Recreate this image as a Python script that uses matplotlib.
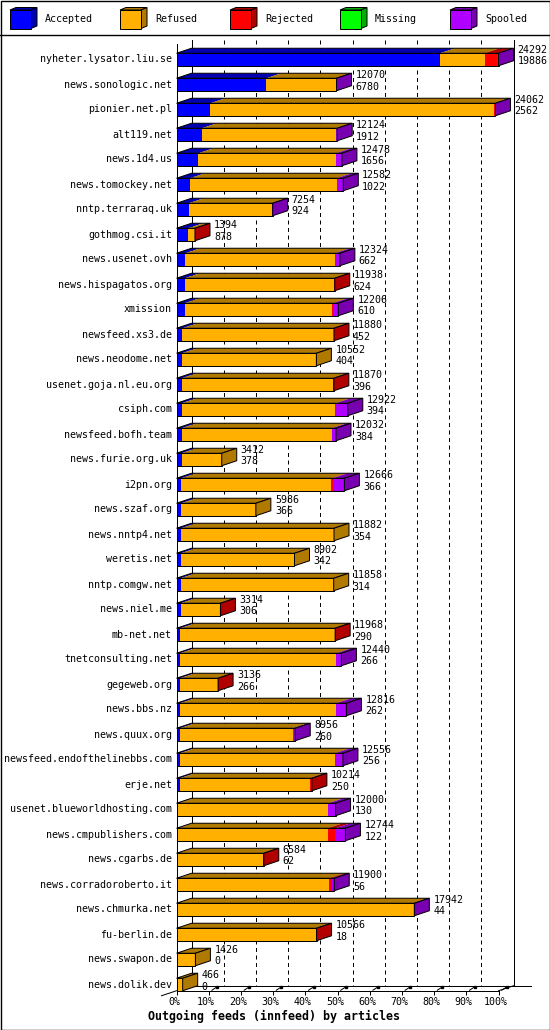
import matplotlib
matplotlib.use("Agg")
import matplotlib.pyplot as plt
from matplotlib.patches import Polygon, Rectangle
from matplotlib.transforms import ScaledTranslation

hosts = ["nyheter.lysator.liu.se", "news.sonologic.net", "pionier.net.pl", "alt119.net",
         "news.1d4.us", "news.tomockey.net", "nntp.terraraq.uk", "gothmog.csi.it",
         "news.usenet.ovh", "news.hispagatos.org", "xmission", "newsfeed.xs3.de",
         "news.neodome.net", "usenet.goja.nl.eu.org", "csiph.com", "newsfeed.bofh.team",
         "news.furie.org.uk", "i2pn.org", "news.szaf.org", "news.nntp4.net", "weretis.net",
         "nntp.comgw.net", "news.niel.me", "mb-net.net", "tnetconsulting.net", "gegeweb.org",
         "news.bbs.nz", "news.quux.org", "newsfeed.endofthelinebbs.com", "erje.net",
         "usenet.blueworldhosting.com", "news.cmpublishers.com", "news.cgarbs.de",
         "news.corradoroberto.it", "news.chmurka.net", "fu-berlin.de", "news.swapon.de",
         "news.dolik.dev"]
offered = [24292, 12070, 24062, 12124, 12478, 12582, 7254, 1394, 12324, 11938, 12206, 11880,
           10552, 11870, 12922, 12032, 3412, 12666, 5986, 11882, 8902, 11858, 3314, 11968,
           12440, 3136, 12816, 8956, 12556, 10214, 12000, 12744, 6584, 11900, 17942, 10566,
           1426, 466]
accepted = [19886, 6780, 2562, 1912, 1656, 1022, 924, 878, 662, 624, 610, 452, 404, 396, 394,
            384, 378, 366, 366, 354, 342, 314, 306, 290, 266, 266, 262, 260, 256, 250, 130,
            122, 62, 56, 44, 18, 0, 0]
refused = [3356, 5240, 21375, 10132, 10372, 11060, 6300, 490, 11282, 11284, 11146, 11398,
           10148, 11444, 11598, 11318, 3034, 11320, 5620, 11528, 8560, 11544, 2988, 11638,
           11794, 2850, 11774, 8496, 11700, 9784, 11320, 11292, 6492, 11474, 17858, 10518,
           1426, 466]
rejected = [950, 0, 75, 0, 0, 0, 0, 26, 0, 30, 20, 30, 0, 30, 0, 0, 0, 100, 0, 0, 0, 0, 20,
            40, 0, 20, 0, 0, 0, 180, 0, 580, 30, 220, 0, 30, 0, 0]
missing = [0] * 38
spooled = [100, 50, 50, 80, 450, 500, 30, 0, 380, 0, 430, 0, 0, 0, 930, 330, 0, 880, 0, 0,
           0, 0, 0, 0, 380, 0, 780, 200, 600, 0, 550, 750, 0, 150, 40, 0, 0, 0]

series = ["Accepted", "Refused", "Rejected", "Missing", "Spooled"]
colors = ["#0000ff", "#ffb000", "#ff0000", "#00ff00", "#b000ff"]
title = "Outgoing feeds (innfeed) by articles"
ticks = list(range(0, 101, 10))

FONT = "DejaVu Sans Mono"
FS = 7.2
LW = 0.72


def dark(c):
    r, g, b = matplotlib.colors.to_rgb(c)
    return (r * 0.69, g * 0.69, b * 0.69)


W, H = 550, 1030
fig = plt.figure(figsize=(W / 100, H / 100), dpi=100)

# frame + legend, in pixel units
bg = fig.add_axes([0, 0, 1, 1])
bg.set_xlim(0, W)
bg.set_ylim(H, 0)
bg.axis("off")
bg.add_patch(Rectangle((0.5, 0.5), W - 1, H - 1, fc="white", ec="black", lw=1.0, zorder=0))
bg.plot([0, W], [35, 35], color="black", lw=1.0)
for k, (name, col) in enumerate(zip(series, colors)):
    lx = 10 + 110 * k
    bg.add_patch(Polygon([(lx, 10), (lx + 21, 10), (lx + 27, 7.5), (lx + 6, 7.5)],
                         fc=dark(col), ec="black", lw=LW))
    bg.add_patch(Polygon([(lx + 21, 10), (lx + 27, 7.5), (lx + 27, 26), (lx + 21, 28.5)],
                         fc=dark(col), ec="black", lw=LW))
    bg.add_patch(Rectangle((lx, 10), 21, 18.5, fc=col, ec="black", lw=LW))
    bg.text(lx + 35, 19.5, name, family=FONT, fontsize=FS, va="center", ha="left")

# plot area
x0px, x1px, ytop, ybot = 176.5, 498.5, 35, 990.75
row_px, first_center = 25.0, 59.5
ax = fig.add_axes([x0px / W, 1 - ybot / H, (x1px - x0px) / W, (ybot - ytop) / H])
ax.set_xlim(0, 100)
floor = (ybot - first_center) / row_px
ax.set_ylim(floor, (ytop - first_center) / row_px)
ax.patch.set_visible(False)

px_x = (x1px - x0px) / 100.0
dx = 15 / px_x
dy = 5 / row_px
half = 0.25
back_top = (40 - first_center) / row_px

# back wall grid
for p in ticks:
    line, = ax.plot([p + dx, p + dx], [back_top, floor - dy], color="black", lw=LW,
                    zorder=1, clip_on=False)
    if p not in (0, 100):
        line.set_dashes((4, 3.5))

# floor
ax.plot([dx, (531 - x0px) / px_x], [floor - dy, floor - dy], color="black", lw=LW,
        clip_on=False, zorder=1)
ax.plot([100, 100 + dx], [floor, floor - dy], color="black", lw=LW, clip_on=False)
ax.plot([-dx, 0], [floor + dy, floor], color="black", lw=LW, clip_on=False)
ax.plot([0, 0], [(44 - first_center) / row_px, floor], color="black", lw=LW,
        clip_on=False, zorder=1)
for p in ticks[1:]:
    ax.plot([p + 1.0, p + 2.4], [floor - 0.02, floor - 0.14], color="black", lw=LW,
            clip_on=False)
    ax.plot([p + 2.6], [floor - 0.16], marker="s", ms=1.6, color="black", clip_on=False)

scale = 100.0 / max(offered)
for i, host in enumerate(hosts):
    vals = [accepted[i], refused[i], rejected[i], missing[i], spooled[i]]
    left = 0.0
    last = colors[1]
    for v, col in zip(vals, colors):
        if v <= 0:
            continue
        right = left + v * scale
        ax.add_patch(Rectangle((left, i - half), right - left, 2 * half, fc=col, ec="none",
                               zorder=3, clip_on=False))
        ax.add_patch(Polygon([(left, i - half), (right, i - half), (right + dx, i - half - dy),
                              (left + dx, i - half - dy)], fc=dark(col), ec="none",
                             zorder=3, clip_on=False))
        last = col
        left = right
    ax.add_patch(Rectangle((0, i - half), left, 2 * half, fc="none", ec="black", lw=LW,
                           zorder=4, clip_on=False))
    ax.add_patch(Polygon([(0, i - half), (left, i - half), (left + dx, i - half - dy),
                          (dx, i - half - dy)], fc="none", ec="black", lw=LW, zorder=4,
                         clip_on=False))
    ax.add_patch(Polygon([(left, i - half), (left + dx, i - half - dy),
                          (left + dx, i + half - dy), (left, i + half)], fc=dark(last),
                         ec="black", lw=LW, zorder=4, clip_on=False))

    ax.annotate(host, xy=(0, i), xytext=(-4.5 * LW, 0), textcoords="offset points",
                ha="right", va="center", family=FONT, fontsize=FS, annotation_clip=False)
    ax.annotate(str(offered[i]), xy=(left, i), xytext=(19 * LW, 9.5 * LW),
                textcoords="offset points", ha="left", va="center", family=FONT,
                fontsize=FS, zorder=5, annotation_clip=False)
    ax.annotate(str(accepted[i]), xy=(left, i), xytext=(19 * LW, -2.0 * LW),
                textcoords="offset points", ha="left", va="center", family=FONT,
                fontsize=FS, zorder=5, annotation_clip=False)

for s in ["top", "left", "right"]:
    ax.spines[s].set_visible(False)
ax.spines["bottom"].set_linewidth(LW)
ax.set_yticks([])
ax.set_xticks(ticks)
ax.set_xticklabels([f"{p}%" for p in ticks], family=FONT, fontsize=FS)
ax.tick_params(axis="x", length=4 * LW, width=LW, pad=1.5)
for lab in ax.get_xticklabels():
    lab.set_transform(lab.get_transform() + ScaledTranslation(-2.5 / 100, 0, fig.dpi_scale_trans))

fig.text(274.5 / W, 1 - 1016.7 / H, title, family=FONT, fontsize=8.4, fontweight="bold",
         ha="center", va="center")

fig.savefig("out.png", dpi=100)
